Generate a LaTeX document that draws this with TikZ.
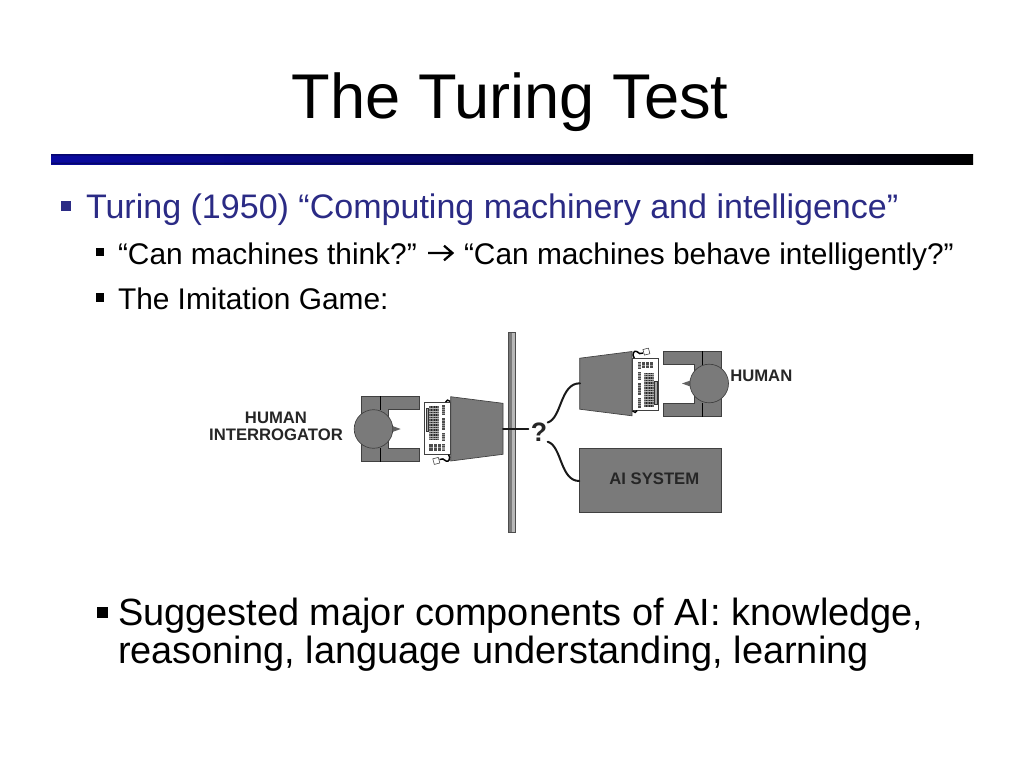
\documentclass[tikz,border=0pt]{standalone}
\usepackage{fontspec}
\setmainfont{Liberation Sans}
\definecolor{darkgrey}{HTML}{7A7A7A}
\definecolor{linegrey}{HTML}{404040}
\definecolor{navytext}{HTML}{2B2B85}
\definecolor{rulenavy}{HTML}{0A0AA0}
\tikzset{
  txt/.style={anchor=base west,inner sep=0pt,outer sep=0pt,text=black},
  label/.style={inner sep=0pt,font=\fontsize{12.5pt}{12.9pt}\selectfont\bfseries,text=black!85,align=center},
  blk/.style={fill=darkgrey,draw=linegrey,line width=0.5pt},
  wire/.style={draw=black!90,line width=1.5pt,line cap=round},
  bulletbox/.style={inner sep=0pt,outer sep=0pt,fill=black,minimum width=#1,minimum height=#1},
}
\newcommand{\terminal}{%
  % desk
  \fill[darkgrey,draw=linegrey,line width=0.4pt] (361,396) -- (419,396) -- (419,409.5) -- (388,409.5) -- (388,448) -- (419,448) -- (419,461.5) -- (361,461.5) -- cycle;
  \draw[black,line width=0.6pt] (380.3,396) -- (380.3,410) (380.3,448) -- (380.3,461.5);
  % nose and head
  \fill[darkgrey!80!black] (391,425.5) -- (400.7,429) -- (391,432.5) -- cycle;
  \fill[darkgrey,draw=linegrey,line width=0.5pt] (373.5,429) circle (19.3);
  % keyboard
  \fill[white,draw=linegrey,line width=0.4pt] (424.3,402.3) rectangle (450.5,454.3);
  \fill[black!60] (429.2,406) rectangle (438.5,440);
  \foreach \kx in {431.5,433.8,436.1} {\draw[black!85,line width=0.4pt] (\kx,406) -- (\kx,440);}
  \foreach \ky in {408.5,411,413.5,416,418.5,421,423.5,426,428.5,431,433.5,436,438.5} {\draw[white!70!black,line width=0.3pt] (429.2,\ky) -- (438.5,\ky);}
  \fill[black!35,draw=black!80,line width=0.4pt] (425.8,408) rectangle (428.6,431.7);
  \foreach \ya/\yb in {405/415,418/430,433/441,444/451} {
    \fill[black!70] (442.2,\ya) rectangle (445,\yb);
    \foreach \kk in {1,...,4} {\draw[white!60!black,line width=0.25pt] (442.2,{\ya+(\yb-\ya)*\kk/5}) -- (445,{\ya+(\yb-\ya)*\kk/5});}
  }
  \foreach \xa/\xb in {429.3/432.7,434/436.7,438/440.7} {
    \fill[black!70] (\xa,444.3) rectangle (\xb,451);
    \draw[white!60!black,line width=0.3pt] (\xa,447.6) -- (\xb,447.6);
  }
  % monitor
  \fill[darkgrey,draw=linegrey,line width=0.5pt] (450.7,396.7) -- (503,403.3) -- (503,454.3) -- (450.7,461) -- cycle;
  \draw[black,line width=1pt] (445.5,402) .. controls (446,399.5) and (449,399.5) .. (450.2,401.5);
  % plug and cable
  \draw[black,line width=1.1pt] (448.5,454.5) .. controls (451,458) and (449,462.5) .. (446,461) .. controls (444,459.5) and (442,457.5) .. (439.5,459.5);
  \fill[white,draw=black!80,line width=0.4pt] (432.8,458.8) -- (438.3,457.4) -- (439.8,463) -- (434.3,464.4) -- cycle;
}
\begin{document}
\begin{tikzpicture}[x=0.75pt,y=-0.75pt]
\useasboundingbox (0,0) rectangle (1024,768);
\fill[white] (0,0) rectangle (1024,768);
% title
\node[inner sep=0pt,anchor=base,font=\fontsize{47.4pt}{50pt}\selectfont] (title) at (510,118) {The Turing Test};
% rule
\shade[left color=rulenavy,right color=black,middle color=rulenavy!60!black] (51,154) rectangle (973,164);
\fill[black,opacity=0.3] (51,154) rectangle (973,155.5) (51,162.5) rectangle (973,164);
% level one
\node[bulletbox=7.5pt,fill=navytext] (b1) at (66,206) {};
\node[txt,text=navytext,font=\fontsize{25.53pt}{28pt}\selectfont] (t1) at (86,218.5) {Turing (1950) “Computing machinery and intelligence”};
% level two
\node[bulletbox=6.5pt] (b2) at (100,252) {};
\node[txt,font=\fontsize{22.4pt}{24pt}\selectfont] (t2a) at (118,264) {“Can machines think?”};
\node[txt,font=\fontsize{22.4pt}{24pt}\selectfont] (t2b) at (464,264) {“Can machines behave intelligently?”};
\coordinate (arrowstart) at (428,253);
\coordinate (arrowend) at (452.5,253);
\coordinate (barbtop) at (444,245.7);
\coordinate (barbbot) at (444,260.3);
\draw[black,line width=1.7pt] (arrowstart) -- (arrowend) (barbtop) -- (arrowend) -- (barbbot);
\node[bulletbox=6.5pt] (b3) at (100,297.5) {};
\node[txt,font=\fontsize{22.4pt}{24pt}\selectfont] (t3) at (118,309) {The Imitation Game:};
% wall
\fill[black!52,draw=black!70,line width=0.4pt] (508.5,332) rectangle (515,532);
\fill[black!28] (512,332.5) rectangle (514.6,531.5);
% terminals
\terminal
\begin{scope}[shift={(1082.7,812.5)},xscale=-1,yscale=-1]
\terminal
\end{scope}
% ai box
\node[blk,anchor=north west,minimum width=106.5pt,minimum height=48.4pt,inner sep=0pt] (ai) at (579.3,447.7) {};
\node[label] (ailabel) at (654.3,478.5) {AI SYSTEM};
\node[label,anchor=west] (human) at (730,376) {HUMAN};
\node[label] (interrogator) at (276,426.5) {HUMAN\\INTERROGATOR};
\node[inner sep=0pt,font=\fontsize{20pt}{20pt}\selectfont\bfseries,text=black!85] (q) at (539,432.5) {?};
% connectors
\coordinate (monL) at (503,429);
\coordinate (wallend) at (528.3,429);
\coordinate (monR) at (580,383.3);
\coordinate (aiport) at (579.3,481);
\coordinate (qtop) at (547.7,422.5);
\coordinate (qbot) at (547.7,441.7);
\draw[wire] (monL) -- (wallend);
\draw[wire] (qtop) .. controls (562,418) and (560,383) .. (monR);
\draw[wire] (qbot) .. controls (562,446) and (560,481) .. (aiport);
% last bullet
\node[bulletbox=8pt] (b4) at (102.3,612.3) {};
\node[txt,font=\fontsize{28.45pt}{32pt}\selectfont] (t4) at (118,625.5) {Suggested major components of AI: knowledge,};
\node[txt,font=\fontsize{28.45pt}{32pt}\selectfont] (t5) at (118,663) {reasoning, language understanding, learning};
\end{tikzpicture}
\end{document}
